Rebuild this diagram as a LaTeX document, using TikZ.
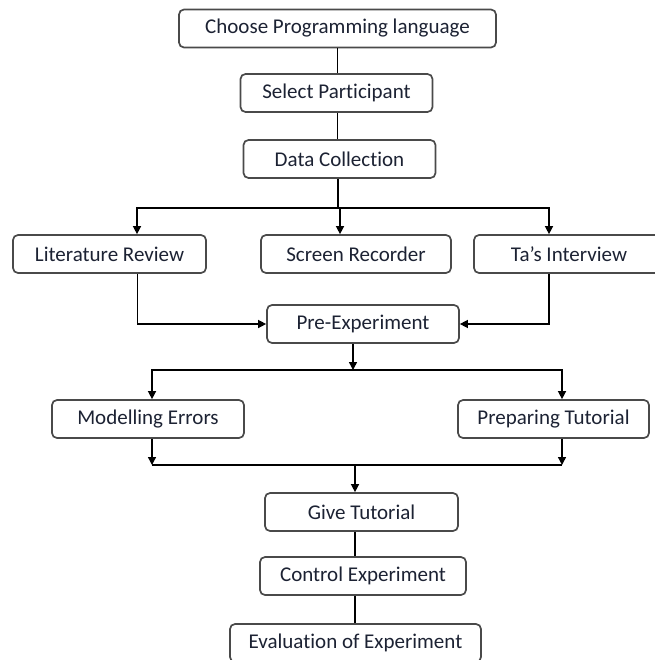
\documentclass[tikz,border=0pt]{standalone}
\usepackage{fontspec}
\setmainfont{Carlito}[RawFeature={-liga;-clig;-dlig;-calt}]
\usetikzlibrary{positioning, arrows.meta}
\definecolor{boxgray}{HTML}{4A4A4A}
\definecolor{textnavy}{HTML}{1C2233}

\begin{document}
\begin{tikzpicture}[x=1pt, y=-1pt,
        box/.style={rounded corners=5pt, draw=boxgray, line width=1.7pt, fill=white,
            minimum width=192pt, minimum height=38pt, inner sep=0pt,
            text=textnavy, font=\fontsize{21}{24}\selectfont},
        link/.style={line width=1.4pt, draw=black},
        arr/.style={link, -{Triangle[length=8pt, width=8pt]}}
    ]
      \useasboundingbox (0,0) rectangle (654,660);
      % Start of the study
      \node[box, minimum width=317pt] (choose) at (337.5,28.5) {Choose Programming language};
      \node[box] (select) at (336.5,93) {Select Participant};
      \node[box] (collect) at (339.5,159) {Data Collection};
      % Data sources
      \node[box, minimum width=193pt] (lit) at (109.5,254) {Literature Review};
      \node[box, minimum width=190pt] (screen) at (356,254) {Screen Recorder};
      \node[box, minimum width=190pt] (tas) at (569,254) {Ta’s Interview};
      \node[box] (pre) at (363,324) {Pre-Experiment};
      % Preparation
      \node[box] (model) at (148,419) {Modelling Errors};
      \node[box, minimum width=191pt] (prep) at (553.5,419) {Preparing Tutorial};
      % Experiment
      \node[box, minimum width=193pt] (give) at (361.5,512) {Give Tutorial};
      \node[box, minimum width=206pt] (control) at (363,576) {Control Experiment};
      \node[box, minimum width=251pt] (eval) at (355.5,643) {Evaluation of Experiment};

      \coordinate (split1) at (338,208);
      \coordinate (split2) at (353,370);
      \coordinate (joinL) at (152,465);
      \coordinate (joinR) at (562,465);
      \coordinate (join) at (355,465);

      \draw[link] (choose.south) -- (choose.south |- select.north);
      \draw[link] (choose.south |- select.south) -- (choose.south |- collect.north);
      \draw[link] (split1 |- collect.south) -- (split1);
      \draw[arr] (split1) -| ([xshift=27.5pt]lit.north);
      \draw[arr] (split1) -| ([xshift=-16pt]screen.north);
      \draw[arr] (split1) -| ([xshift=-20pt]tas.north);
      \draw[arr] ([xshift=28pt]lit.south) |- (pre.west);
      \draw[arr] ([xshift=-20pt]tas.south) |- (pre.east);
      \draw[arr] ([xshift=-10pt]pre.south) -- (split2);
      \draw[arr] (split2) -| ([xshift=4pt]model.north);
      \draw[arr] (split2) -| ([xshift=8.5pt]prep.north);
      \draw[arr] ([xshift=4pt]model.south) -- (joinL);
      \draw[arr] ([xshift=8.5pt]prep.south) -- (joinR);
      \draw[link] (joinL) -- (joinR);
      \draw[arr] (join) -- (join |- give.north);
      \draw[link] (join |- give.south) -- (join |- control.north);
      \draw[link] (join |- control.south) -- (join |- eval.north);
    \end{tikzpicture}
\end{document}
